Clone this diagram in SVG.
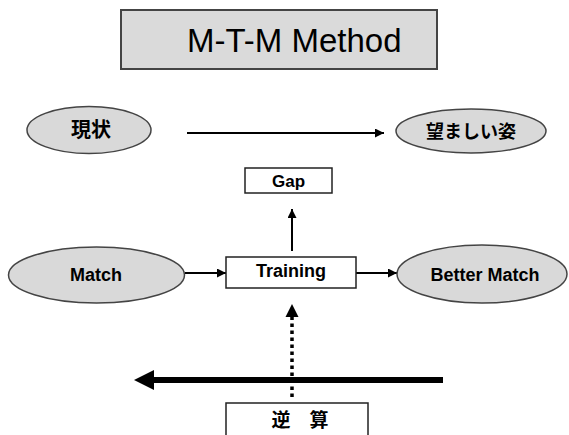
<svg xmlns="http://www.w3.org/2000/svg" width="569" height="435" viewBox="0 0 569 435">
<defs>
<style>
.ell{fill:#d9d9d9;stroke:#444;stroke-width:1.5}
.box{fill:#fff;stroke:#222;stroke-width:1.5}
.lbl{font-family:"Liberation Sans","Noto Sans CJK JP",sans-serif;font-weight:bold;fill:#000;text-anchor:middle}
.jp{font-family:"Noto Sans CJK JP",sans-serif;font-weight:bold;fill:#000;text-anchor:middle}
.ln{stroke:#000;stroke-width:2;fill:none}
</style>
<marker id="ah" viewBox="0 0 10 10" refX="10" refY="5" markerWidth="4.5" markerHeight="4.5" orient="auto" markerUnits="strokeWidth">
<path d="M0,0 L10,5 L0,10 z" fill="#000"/>
</marker>
</defs>
<rect width="569" height="435" fill="#fff"/>
<g id="title">
<rect x="121" y="10" width="316" height="59" fill="#dadada" stroke="#444" stroke-width="2"/>
<text x="187" y="52" font-family="'Liberation Sans',sans-serif" font-size="33" fill="#000">M-T-M Method</text>
</g>
<g id="connectors">
<line class="ln" x1="187" y1="133" x2="384" y2="133" marker-end="url(#ah)"/>
<line class="ln" x1="292" y1="251" x2="292" y2="209" marker-end="url(#ah)"/>
<line class="ln" x1="185" y1="273" x2="226" y2="273" marker-end="url(#ah)"/>
<line class="ln" x1="356" y1="273" x2="397" y2="273" marker-end="url(#ah)"/>
<line x1="443" y1="380" x2="150" y2="380" stroke="#000" stroke-width="6"/>
<polygon points="134,380 154,370 154,390" fill="#000"/>
<line x1="292" y1="397" x2="292" y2="315" stroke="#000" stroke-width="3.5" stroke-dasharray="3.5 3.5"/>
<polygon points="292,304 285.5,317 298.5,317" fill="#000"/>
</g>
<g id="genjou">
<ellipse class="ell" cx="89" cy="130" rx="62" ry="23.5"/>
<text class="jp" x="91" y="137" font-size="20">現状</text>
</g>
<g id="nozomashii">
<ellipse class="ell" cx="471" cy="131" rx="75" ry="22"/>
<text class="jp" x="471" y="138" font-size="18">望ましい姿</text>
</g>
<g id="gap">
<rect class="box" x="245" y="168" width="87" height="25"/>
<text class="lbl" x="288.5" y="187" font-size="17">Gap</text>
</g>
<g id="match">
<ellipse class="ell" cx="96.5" cy="275" rx="88" ry="28"/>
<text class="lbl" x="96" y="281" font-size="18">Match</text>
</g>
<g id="training">
<rect class="box" x="226" y="257" width="130" height="31"/>
<text class="lbl" x="291" y="277" font-size="18">Training</text>
</g>
<g id="better">
<ellipse class="ell" cx="482" cy="274" rx="85" ry="29"/>
<text class="lbl" x="485" y="281" font-size="18">Better Match</text>
</g>
<g id="gyakusan">
<rect class="box" x="226" y="403" width="142" height="45"/>
<text class="jp" x="300" y="427" font-size="19">逆　算</text>
</g>
</svg>
